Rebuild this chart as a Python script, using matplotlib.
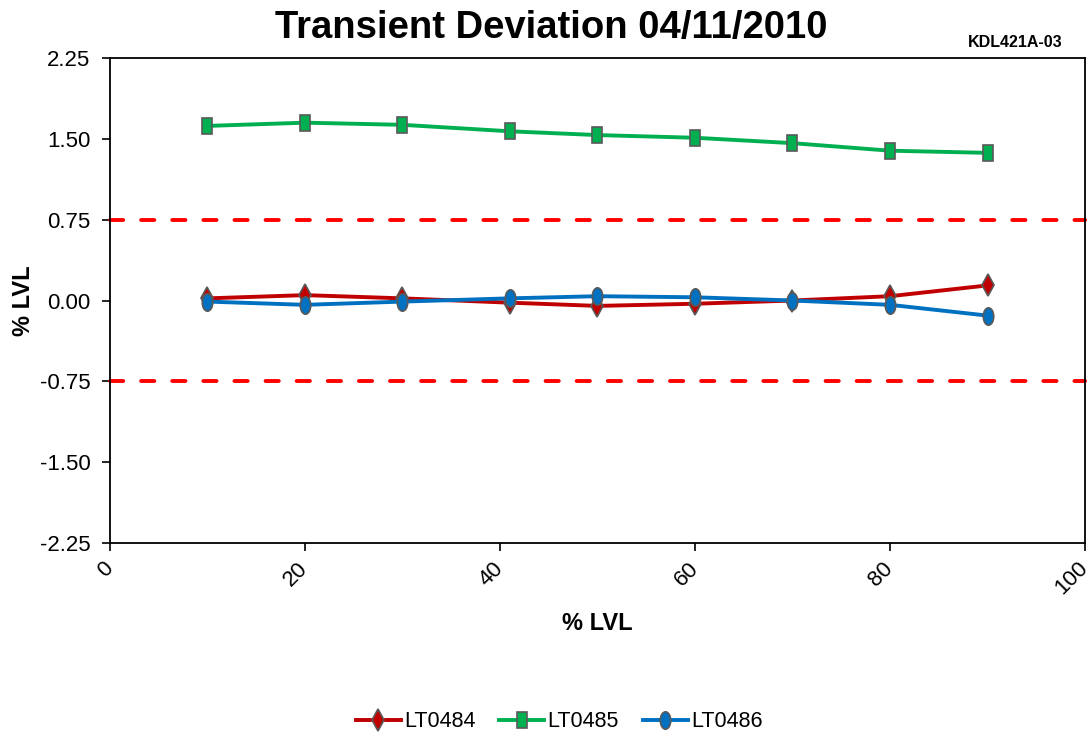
import matplotlib.pyplot as plt
from matplotlib.markers import MarkerStyle
from matplotlib.transforms import Affine2D

plt.rcParams['font.family'] = ['Liberation Sans', 'DejaVu Sans']

x = [10, 20, 30, 41, 50, 60, 70, 80, 90]
lt0484 = [0.02, 0.05, 0.02, -0.02, -0.05, -0.03, 0.00, 0.04, 0.14]
lt0485 = [1.62, 1.65, 1.63, 1.57, 1.535, 1.51, 1.46, 1.39, 1.37]
lt0486 = [-0.01, -0.04, -0.01, 0.02, 0.04, 0.03, 0.00, -0.04, -0.14]
limits = [0.75, -0.75]
yticks = [2.25, 1.50, 0.75, 0.00, -0.75, -1.50, -2.25]
xticks = [0, 20, 40, 60, 80, 100]


def tall(m, sx):
    # markers in the original are squeezed horizontally
    return MarkerStyle(m, transform=Affine2D().scale(sx, 1.0))


fig = plt.figure(figsize=(10.92, 7.38), dpi=100)
ax = fig.add_axes([0.1007, 0.2642, 0.8929, 0.6572])

series = [
    (lt0484, 'LT0484', '#C00000', tall('D', 0.55), 11),
    (lt0485, 'LT0485', '#00B050', tall('s', 0.58), 11.5),
    (lt0486, 'LT0486', '#0070C0', tall('o', 0.6), 12.5),
]
for ys, name, col, mk, ms in series:
    ax.plot(x, ys, color=col, lw=2.8, marker=mk, markersize=ms,
            markerfacecolor=col, markeredgecolor='#595959', markeredgewidth=1.2,
            label=name, zorder=3)

for lim in limits:
    ax.axhline(lim, color='#FF0000', lw=2.8, dashes=(3.4, 4.6), dash_capstyle='round',
               zorder=2, clip_on=False)

ax.set_xlim(0, 100)
ax.set_ylim(-2.25, 2.25)
ax.set_xticks(xticks)
ax.set_yticks(yticks)
ax.set_yticklabels([f'{v:.2f}' for v in yticks])
ax.tick_params(direction='out', length=6, width=1.2, labelsize=16)
ax.tick_params(axis='x', pad=10)
ax.tick_params(axis='y', pad=8)
for lab in ax.get_xticklabels():
    lab.set_rotation(45)
    lab.set_rotation_mode('anchor')
    lab.set_ha('right')
    lab.set_va('center')
for sp in ax.spines.values():
    sp.set_linewidth(1.3)

ax.set_xlabel('% LVL', fontsize=17, fontweight='bold', labelpad=9)
ax.set_ylabel('% LVL', fontsize=17, fontweight='bold', labelpad=3.5)

fig.text(0.505, 0.962, 'Transient Deviation 04/11/2010', ha='center', va='center',
         fontsize=27.5, fontweight='bold')
fig.text(0.93, 0.943, 'KDL421A-03', ha='center', va='center', fontsize=11.5, fontweight='bold')

fig.legend(loc='center', bbox_to_anchor=(0.512, 0.022), ncol=3, frameon=False,
           fontsize=15.5, handlelength=2.1, handletextpad=0.15, columnspacing=1.1)

fig.savefig('out.png', dpi=100)
